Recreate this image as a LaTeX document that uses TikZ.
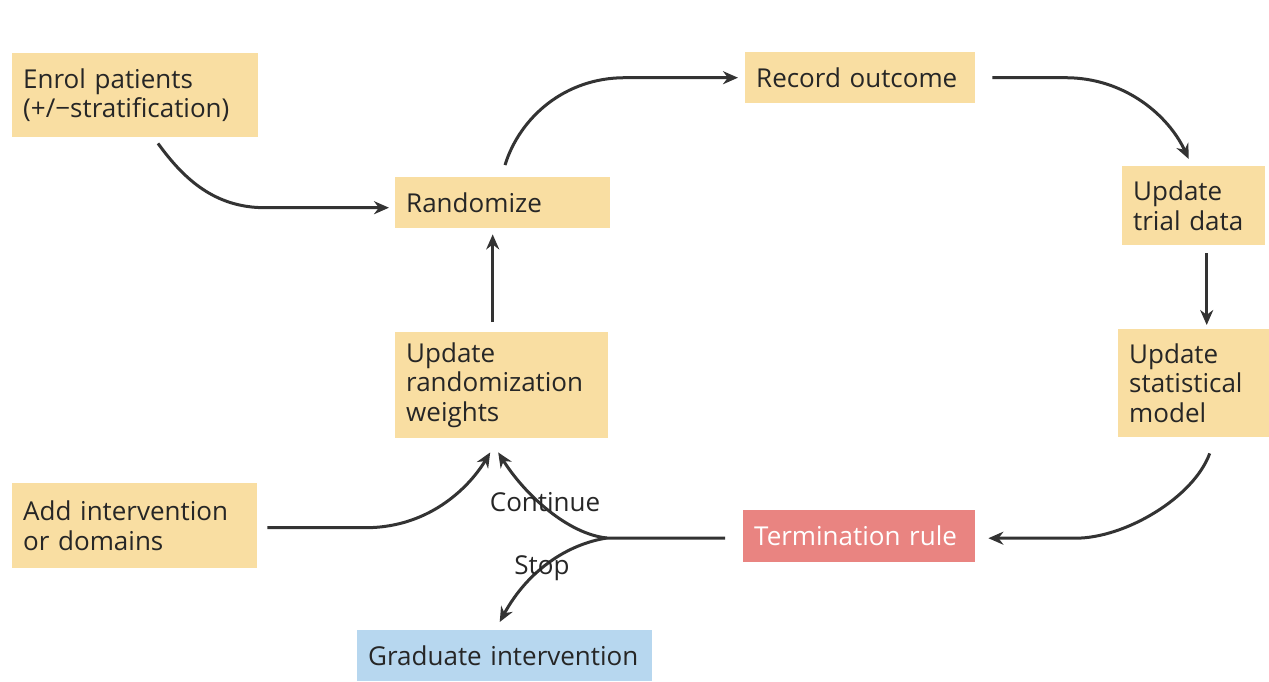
\documentclass[tikz,border=0pt]{standalone}
\usepackage{fontspec}
\setmainfont{Open Sans}
\usetikzlibrary{arrows.meta,calc}
\definecolor{boxyellow}{HTML}{F9DEA2}
\definecolor{termred}{HTML}{E98481}
\definecolor{gradblue}{HTML}{B7D7EF}
\definecolor{ink}{HTML}{333333}
\definecolor{textink}{HTML}{262626}
\newcommand{\flowfont}{\fontsize{26}{29.5}\selectfont}
\begin{document}
\begin{tikzpicture}[x=1pt,y=-1pt,
  box/.style={fill=boxyellow, anchor=north west, align=left, inner xsep=11pt,
    inner ysep=0pt, text=textink, font=\flowfont},
  arr/.style={draw=ink, line width=3pt, -{Stealth[length=15pt,width=13pt]}},
  link/.style={draw=ink, line width=3pt},
  lbl/.style={text=textink, font=\flowfont, inner sep=0pt}]
\useasboundingbox[fill=white] (0,0) rectangle (1269,681);

% process boxes
\node[box, text width=224pt, minimum height=84pt] (enrol) at (12,53)
  {Enrol patients\\\mbox{(+/−stratification)}};
\node[box, text width=208pt, minimum height=51pt] (record) at (745,52)
  {Record outcome};
\node[box, text width=193pt, minimum height=51pt] (rand) at (395,177)
  {Randomize};
\node[box, text width=121pt, minimum height=79pt] (trial) at (1122,166)
  {Update\\trial data};
\node[box, text width=129pt, minimum height=108pt] (stat) at (1118,329)
  {Update\\statistical\\model};
\node[box, text width=191pt, minimum height=106pt] (uw) at (395,332)
  {Update\\randomization\\weights};
\node[box, text width=223pt, minimum height=85pt] (add) at (12,483)
  {Add intervention\\or domains};
\node[box, fill=termred, text=white, text width=210pt, minimum height=52pt] (term) at (743,510)
  {Termination rule};
\node[box, fill=gradblue, text width=273pt, minimum height=51pt] (grad) at (357,630)
  {\mbox{Graduate intervention}};

% branch point after the termination rule
\coordinate (j) at (607,538);

% connectors
\draw[arr] ($(enrol.south west)+(146,6)$)
  .. controls ($(enrol.south west)+(172,42)$) and ($(rand.west)+(-180,5)$)
  .. ($(rand.west)+(-130,5)$) -- ($(rand.west)+(-6,5)$);
\draw[arr] ($(rand.north west)+(110,-12)$)
  .. controls ($(rand.north west)+(125,-60)$) and ($(record.west)+(-180,0)$)
  .. ($(record.west)+(-120,0)$) -- ($(record.west)+(-7,0)$);
\draw[arr] ($(record.east)+(17,0)$) -- ($(record.east)+(90,0)$)
  .. controls ($(record.east)+(150,0)$) and ($(trial.north)+(-25,-50)$)
  .. ($(trial.north)+(-5,-7)$);
\draw[arr] ($(trial.south)+(13,8)$) -- ($(stat.north)+(13,-4)$);
\draw[arr] ($(stat.south)+(16,16)$)
  .. controls ($(stat.south)+(0,60)$) and ($(term.east)+(150,2)$)
  .. ($(term.east)+(100,2)$) -- ($(term.east)+(13,2)$);
\draw[link] ($(term.west)+(-18,2)$) -- (j);
\draw[arr] (j) .. controls (568,534) and (525,495) .. ($(uw.south)+(-3.5,14)$);
\draw[arr] (j) .. controls (568,544) and (528,570) .. ($(grad.north)+(-5,-8)$);
\draw[arr] ($(add.east)+(10,2)$) -- ($(add.east)+(108,2)$)
  .. controls ($(add.east)+(175,2)$) and ($(uw.south)+(-30,45)$)
  .. ($(uw.south)+(-11.5,14)$);
\draw[arr] ($(uw.north)+(-9,-10)$) -- ($(rand.south)+(-10,6)$);

% branch labels
\node[lbl] (cont) at (545,502) {Continue};
\node[lbl] (stop) at (542,568) {Stop};
\end{tikzpicture}
\end{document}
